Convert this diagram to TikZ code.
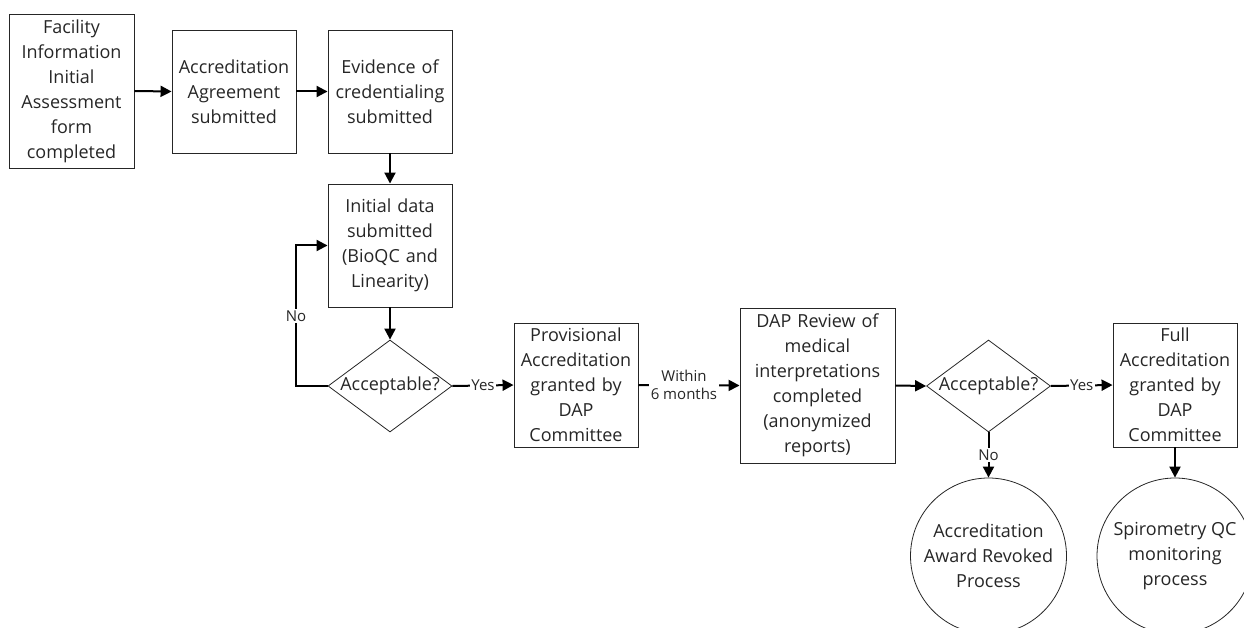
\documentclass[tikz,border=0pt]{standalone}
\usepackage{fontspec}
\setmainfont{Open Sans}
\usetikzlibrary{arrows.meta,shapes.geometric}
\begin{document}
\begin{tikzpicture}[x=1pt,y=-1pt,
  every node/.style={font=\fontsize{18}{25}\selectfont, text=black!85},
  stepbox/.style={draw=black!85, line width=0.9pt, rectangle, inner sep=2pt, align=center},
  decision/.style={draw=black!85, line width=0.8pt, diamond, inner sep=0pt, minimum width=124pt, minimum height=92pt},
  endcircle/.style={draw=black!85, line width=0.8pt, circle, inner sep=0pt, minimum size=156pt, align=center},
  arr/.style={line width=2pt, -{Triangle[length=11pt,width=11pt]}},
  lbl/.style={fill=white, inner sep=1.5pt, font=\fontsize{15}{18}\selectfont, align=center}]
\useasboundingbox (0,0) rectangle (1244,628);
\clip (0,0) rectangle (1244,628);
\node[stepbox, minimum width=125pt, minimum height=154pt, text width=121pt] (b1) at (71.5,91) {Facility\\Information\\Initial\\Assessment\\form\\completed};
\node[stepbox, minimum width=124pt, minimum height=123pt, text width=120pt] (b2) at (234,91.5) {Accreditation\\Agreement\\submitted};
\node[stepbox, minimum width=124pt, minimum height=123pt, text width=120pt] (b3) at (390,91.5) {Evidence of\\credentialing\\submitted};
\node[stepbox, minimum width=124pt, minimum height=123pt, text width=120pt] (b4) at (390,245.5) {Initial data\\submitted\\(BioQC and\\Linearity)};
\node[decision] (d1) at (390,386) {};
\node (d1t) at (d1.center) {Acceptable?};
\node[stepbox, minimum width=124pt, minimum height=124pt, text width=120pt] (b5) at (576,385) {Provisional\\Accreditation\\granted by\\DAP\\Committee};
\node[stepbox, minimum width=155pt, minimum height=155pt, text width=151pt] (b6) at (817.5,385.5) {DAP Review of\\medical\\interpretations\\completed\\(anonymized\\reports)};
\node[decision] (d2) at (988.5,386) {};
\node (d2t) at (d2.center) {Acceptable?};
\node[stepbox, minimum width=124pt, minimum height=124pt, text width=120pt] (b7) at (1175,385) {Full\\Accreditation\\granted by\\DAP\\Committee};
\node[endcircle] (c1) at (988.5,556) {Accreditation\\Award Revoked\\Process};
\node[endcircle] (c2) at (1175,556) {Spirometry QC\\monitoring\\process};
\coordinate (nocorner) at (296,386);
\draw[arr] (b1.east) -- (b2.west);
\draw[arr] (b2.east) -- (b3.west);
\draw[arr] (b3.south) -- (b4.north);
\draw[arr] (b4.south) -- (d1.north);
\draw[arr] (d1.west) -- (nocorner) |- node[lbl, pos=0.25] {No} (b4.west);
\draw[arr] (d1.east) -- node[lbl] {Yes} (b5.west);
\draw[arr] (b5.east) -- node[lbl, pos=0.45] {Within\\6 months} (b6.west);
\draw[arr] (b6.east) -- (d2.west);
\draw[arr] (d2.east) -- node[lbl] {Yes} (b7.west);
\draw[arr] (d2.south) -- node[lbl] {No} (c1.north);
\draw[arr] (b7.south) -- (c2.north);
\end{tikzpicture}
\end{document}
